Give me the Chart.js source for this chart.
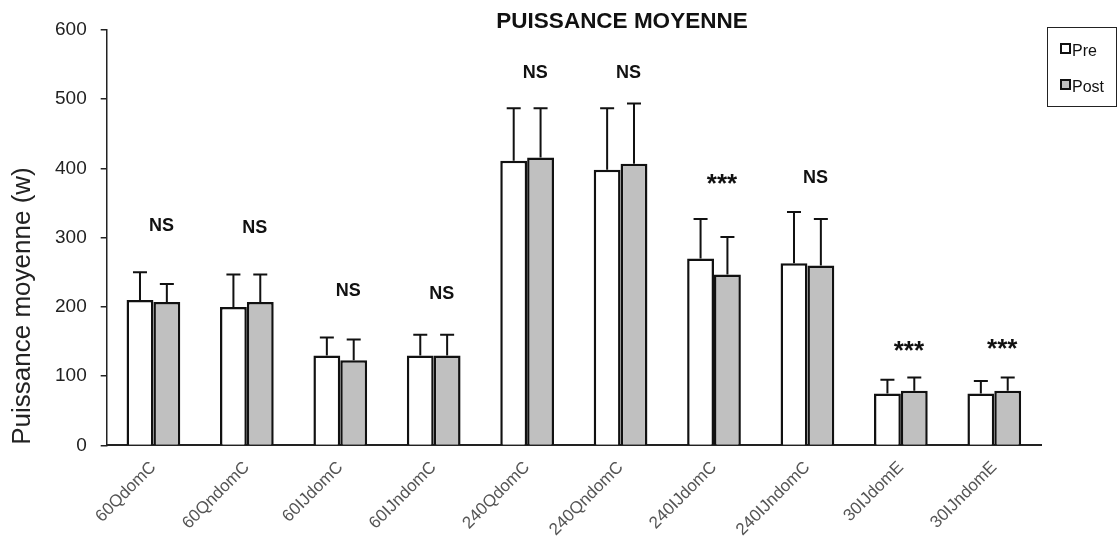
<!DOCTYPE html>
<html>
<head>
<meta charset="utf-8">
<script src="https://cdn.jsdelivr.net/npm/chart.js@4"></script>
<style>
  body { margin: 0; background: #fff; }
  #wrap { position: relative; width: 1118px; height: 550px; }
  #legend {
    position: absolute; left: 1047px; top: 27px; width: 70px; height: 80px;
    border: 1.5px solid #222; box-sizing: border-box;
    font-family: "Liberation Sans", Arial, sans-serif; font-size: 16px; color: #111;
  }
  #legend div { position: absolute; left: 12px; }
  #legend span.box {
    display: inline-block; width: 7px; height: 7px; border: 2px solid #111;
    margin-right: 1px; vertical-align: 2px;
  }
</style>
</head>
<body>
<div id="wrap">
  <canvas id="chart" width="1118" height="550"></canvas>
  <div id="legend">
    <div style="top:14px"><span class="box" style="background:#fff"></span>Pre</div>
    <div style="top:50px"><span class="box" style="background:#c0c0c0"></span>Post</div>
  </div>
</div>
<script>
const categories = ["60QdomC", "60QndomC", "60IJdomC", "60IJndomC", "240QdomC",
  "240QndomC", "240IJdomC", "240IJndomC", "30IJdomE", "30IJndomE"];
const preValues = [210, 200, 130, 130, 411, 398, 270, 263, 75, 75];
const preSD = [40, 47, 26, 30, 76, 89, 57, 74, 20, 18];
const postValues = [207, 207, 123, 130, 416, 407, 247, 260, 79, 79];
const postSD = [26, 40, 30, 30, 71, 87, 54, 67, 19, 19];
const signif = ["NS", "NS", "NS", "NS", "NS", "NS", "***", "NS", "***", "***"];
const signifHeight = [317, 314, 223, 218, 538, 538, 383, 386, 143, 145];
const yTicks = [0, 100, 200, 300, 400, 500, 600];

const FONT = '"Liberation Sans", Arial, sans-serif';

// error bars (upward only), significance marks, titles
const extras = {
  id: "extras",
  afterDatasetsDraw(chart) {
    const ctx = chart.ctx;
    const y = chart.scales.y;
    const x = chart.scales.x;
    const sds = [preSD, postSD];
    ctx.save();
    ctx.strokeStyle = "#111";
    ctx.lineWidth = 2;
    chart.data.datasets.forEach((ds, di) => {
      chart.getDatasetMeta(di).data.forEach((bar, i) => {
        const top = y.getPixelForValue(ds.data[i]);
        const end = y.getPixelForValue(ds.data[i] + sds[di][i]);
        ctx.beginPath();
        ctx.moveTo(bar.x, top);
        ctx.lineTo(bar.x, end);
        ctx.moveTo(bar.x - 7, end);
        ctx.lineTo(bar.x + 7, end);
        ctx.stroke();
      });
    });
    ctx.fillStyle = "#111";
    ctx.textAlign = "center";
    ctx.textBaseline = "middle";
    signif.forEach((s, i) => {
      const px = x.getPixelForValue(i) + 8;
      const py = y.getPixelForValue(signifHeight[i]);
      if (s === "NS") {
        ctx.font = "bold 18px " + FONT;
        ctx.fillText(s, px, py);
      } else {
        ctx.font = "bold 26px " + FONT;
        ctx.fillText(s, px, py + 5);
      }
    });
    ctx.font = "bold 22.5px " + FONT;
    ctx.fillText("PUISSANCE MOYENNE", 622, 22);

    ctx.fillStyle = "#222";
    ctx.font = "26px " + FONT;
    ctx.translate(23, 306);
    ctx.rotate(-Math.PI / 2);
    ctx.fillText("Puissance moyenne (w)", 0, 0);
    ctx.restore();
  }
};

new Chart(document.getElementById("chart").getContext("2d"), {
  type: "bar",
  data: {
    labels: categories,
    datasets: [
      {
        label: "Pre",
        data: preValues,
        backgroundColor: "#ffffff",
        borderColor: "#111",
        borderWidth: 2.5,
        categoryPercentage: 0.575,
        barPercentage: 1.0,
      },
      {
        label: "Post",
        data: postValues,
        backgroundColor: "#c0c0c0",
        borderColor: "#111",
        borderWidth: 2.5,
        categoryPercentage: 0.575,
        barPercentage: 1.0,
      },
    ],
  },
  options: {
    responsive: false,
    animation: false,
    layout: { padding: { top: 30, right: 77, left: 41, bottom: 6 } },
    plugins: {
      legend: { display: false },
      title: { display: false },
      tooltip: { enabled: false },
    },
    scales: {
      x: {
        grid: { display: false },
        border: { color: "#222", width: 2 },
        ticks: {
          color: "#555",
          font: { family: FONT, size: 17 },
          minRotation: 45,
          maxRotation: 45,
          padding: 4,
        },
      },
      y: {
        min: 0,
        max: 600,
        afterBuildTicks(axis) {
          axis.ticks = yTicks.map((v) => ({ value: v }));
        },
        grid: { drawOnChartArea: false, color: "#222", tickLength: 6, lineWidth: 1.5 },
        border: { color: "#222", width: 1.5 },
        ticks: {
          color: "#222",
          font: { family: FONT, size: 19 },
          padding: 14,
        },
      },
    },
  },
  plugins: [extras],
});
</script>
</body>
</html>
